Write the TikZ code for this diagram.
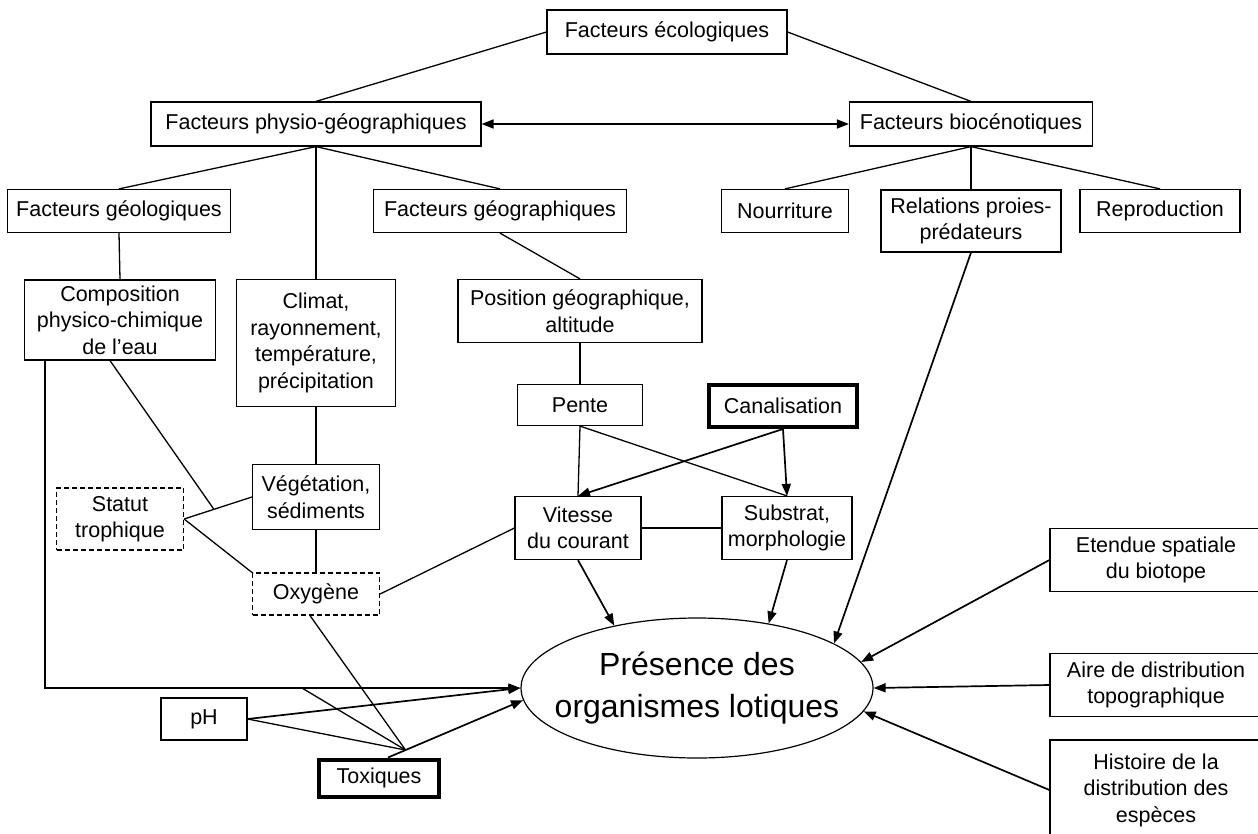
\documentclass[tikz,border=0pt]{standalone}
\usepackage{fontspec}
\setmainfont{Liberation Sans}
\usetikzlibrary{arrows.meta,shapes.geometric,calc}
\begin{document}
\begin{tikzpicture}[x=1pt,y=-1pt,
  box/.style={draw, line width=1.2pt, inner sep=0pt, align=center, font=\fontsize{21.5}{26.5}\selectfont},
  dbox/.style={box, dash pattern=on 5pt off 3pt},
  tbox/.style={box, line width=4pt},
  ln/.style={line width=1.3pt},
  arr/.style={line width=1.7pt, -{Triangle[length=12pt,width=9pt]}},
  darr/.style={line width=1.7pt, {Triangle[length=12pt,width=9pt]}-{Triangle[length=12pt,width=9pt]}},
  ]
\fill[white] (0,0) rectangle (1258,833);
\useasboundingbox (0,0) rectangle (1258,833);

% nodes
\node[box, minimum width=240pt, minimum height=44pt] (eco) at (667,32) {Facteurs écologiques};
\node[box, minimum width=330pt, minimum height=44pt] (physio) at (316,124) {Facteurs physio-géographiques};
\node[box, minimum width=243pt, minimum height=44pt] (bio) at (971,124) {Facteurs biocénotiques};
\node[box, minimum width=223pt, minimum height=43pt] (geol) at (119,211) {Facteurs géologiques};
\node[box, minimum width=253pt, minimum height=43pt] (geog) at (500,211) {Facteurs géographiques};
\node[box, minimum width=127pt, minimum height=43pt] (nour) at (785,211) {Nourriture};
\node[box, minimum width=180pt, minimum height=62pt] (rel) at (971,221) {Relations proies-\\prédateurs};
\node[box, minimum width=160pt, minimum height=43pt] (repro) at (1160,211) {Reproduction};

\node[box, minimum width=191pt, minimum height=80pt] (compo) at (120,320) {Composition\\physico-chimique\\de l’eau};
\node[box, minimum width=159pt, minimum height=127pt] (climat) at (316,343) {Climat,\\rayonnement,\\température,\\précipitation};
\node[box, minimum width=244pt, minimum height=63pt] (pos) at (580,311) {Position géographique,\\altitude};
\node[box, minimum width=125pt, minimum height=41pt] (pente) at (580,405) {Pente};
\node[tbox, minimum width=148pt, minimum height=42pt] (canal) at (783,406) {Canalisation};
\node[box, minimum width=127pt, minimum height=65pt] (veg) at (316,497) {Végétation,\\sédiments};
\node[dbox, minimum width=127pt, minimum height=62pt] (statut) at (120,519) {Statut\\trophique};
\node[dbox, minimum width=127pt, minimum height=42pt] (oxy) at (316,594) {Oxygène};
\node[box, minimum width=126pt, minimum height=63pt] (vit) at (578,528) {Vitesse\\du courant};
\node[box, minimum width=130pt, minimum height=63pt] (sub) at (787,528) {Substrat,\\morphologie};

\node[draw, ellipse, line width=1.2pt, inner sep=0pt, minimum width=352pt, minimum height=140pt] (pres) at (697,688) {};
\node[align=center, font=\fontsize{32}{42}\selectfont] (presl) at (pres.center) {Présence des\\organismes lotiques};

\node[box, minimum width=212pt, minimum height=63pt] (ete) at (1156,560) {Etendue spatiale\\du biotope};
\node[box, minimum width=212pt, minimum height=63pt] (aire) at (1156,685) {Aire de distribution\\topographique};
\node[box, minimum width=212pt, minimum height=100pt] (hist) at (1156,790) {Histoire de la\\distribution des\\espèces};
\node[box, minimum width=86pt, minimum height=42pt] (ph) at (204,719) {pH};
\node[tbox, minimum width=120pt, minimum height=37pt] (tox) at (379,778) {Toxiques};

% tree connectors
\draw[ln] (eco.west) -- (physio.north);
\draw[ln] (eco.east) -- (bio.north);
\draw[darr] (physio.east) -- (bio.west);
\draw[ln] (physio.south) -- (geol.north);
\draw[ln] (physio.south) -- (climat.north);
\draw[ln] (physio.south) -- (geog.north);
\draw[ln] (bio.south) -- (nour.north);
\draw[ln] (bio.south) -- (rel.north);
\draw[ln] (bio.south) -- (repro.north);
\draw[ln] (geol.south) -- (compo.north);
\draw[ln] (geog.south) -- (pos.north);
\draw[ln] (pos.south) -- (pente.north);
\draw[ln] (climat.south) -- (veg.north);
\draw[ln] (veg.south) -- (oxy.north);

% middle connectors
\draw[ln] (statut.east) -- coordinate[pos=0.44] (jct) (veg.west);
\draw[ln] ([xshift=-10pt]compo.south) -- (jct);
\draw[ln] (statut.east) -- (oxy.north west);
\draw[ln] (oxy.east) -- (vit.west);
\draw[ln] (vit.east) -- (sub.west);
\draw[ln] (pente.south) -- (vit.north);
\draw[ln] (pente.south) -- (sub.north);
\draw[arr] (canal.south) -- (vit.north);
\draw[arr] (canal.south) -- (sub.north);

% arrows into the ellipse
\draw[arr] (vit.south) -- (pres.143);
\draw[arr] (sub.south) -- (pres.42);
\draw[arr] (rel.south) -- (pres.18);
\draw[arr] (ete.west) -- (pres.9);
\draw[arr] (aire.west) -- (pres.east);
\draw[arr] (hist.west) -- (pres.352);

% bottom-left
\coordinate (branch) at (302,688);
\draw[arr] ([xshift=21pt]compo.south west) |- (pres.west);
\draw[arr] (ph.east) -- (pres.west);
\draw[arr] ([xshift=9pt]tox.north) -- coordinate[pos=0.13] (conv) (pres.184);
\draw[ln] (ph.east) -- (conv);
\draw[ln] (branch) -- (conv);
\draw[ln] ([xshift=-6pt]oxy.south) -- (conv);
\end{tikzpicture}
\end{document}
